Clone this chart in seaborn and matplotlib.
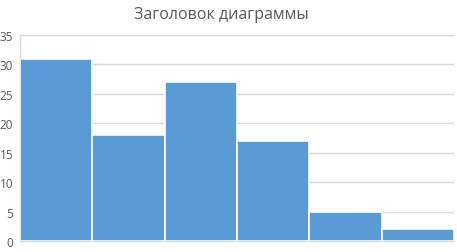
import matplotlib
matplotlib.use("Agg")
import matplotlib.pyplot as plt
import seaborn as sns
import pandas as pd

categories = ["1", "2", "3", "4", "5", "6"]
values = [31, 18, 27, 17, 5, 2]
yticks = [0, 5, 10, 15, 20, 25, 30, 35]
title = "Заголовок диаграммы"

sns.set_theme(style="white")
plt.rcParams['font.family'] = ['Open Sans', 'DejaVu Sans']

df = pd.DataFrame({"cat": categories, "val": values})

fig = plt.figure(figsize=(4.57, 2.53), dpi=100)
ax = fig.add_axes([20/457, 1 - 242/253, 434/457, 206/253])
sns.barplot(data=df, x="cat", y="val", color="#5B9BD5", width=1.0,
            edgecolor="white", linewidth=1.2, saturation=1, ax=ax, zorder=3)
ax.set_ylim(0, 35)
ax.set_xlim(-0.5, 5.5)
ax.set_yticks(yticks)
ax.set_yticklabels([str(t) for t in yticks], color="#595959", fontsize=8.5)
ax.set_xticks([])
ax.set_xlabel("")
ax.set_ylabel("")
ax.tick_params(axis="y", length=0, pad=5)
ax.grid(axis="y", color="#D9D9D9", linewidth=1, zorder=0)
for s in ["top", "right"]:
    ax.spines[s].set_visible(False)
ax.spines["left"].set_color("#D9D9D9")
ax.spines["bottom"].set_color("#D9D9D9")
ax.spines["left"].set_linewidth(1)
ax.spines["bottom"].set_linewidth(1)
fig.text(221/457, 1 - 15/253, title, ha="center", va="center",
         fontsize=11.5, color="#595959")
fig.savefig("out.png", dpi=100)
